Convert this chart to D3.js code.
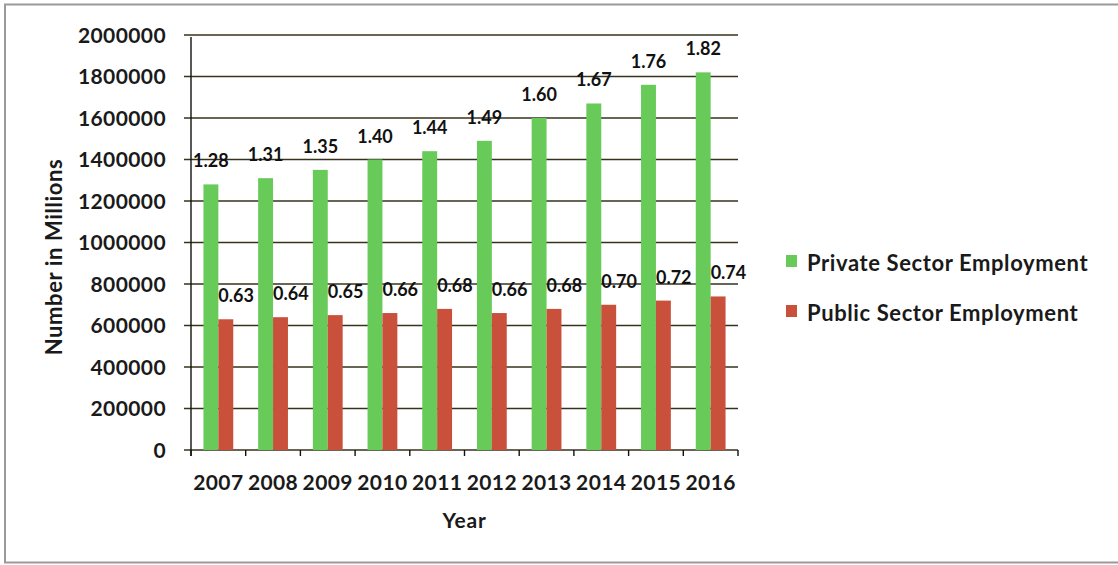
<!DOCTYPE html>
<html>
<head>
<meta charset="utf-8">
<script src="https://cdn.jsdelivr.net/npm/d3@7"></script>
<style>
  body { margin: 0; background: #fff; }
  svg { display: block; font-family: Lato, "Open Sans", sans-serif; font-weight: bold; }
</style>
</head>
<body>
<div id="chart"></div>
<script>
"use strict";

// values
const years = ["2007", "2008", "2009", "2010", "2011", "2012", "2013", "2014", "2015", "2016"];
const privateSector = [1280000, 1310000, 1350000, 1400000, 1440000, 1490000, 1600000, 1670000, 1760000, 1820000];
const publicSector = [630000, 640000, 650000, 660000, 680000, 660000, 680000, 700000, 720000, 740000];
const privateLabels = ["1.28", "1.31", "1.35", "1.40", "1.44", "1.49", "1.60", "1.67", "1.76", "1.82"];
const publicLabels = ["0.63", "0.64", "0.65", "0.66", "0.68", "0.66", "0.68", "0.70", "0.72", "0.74"];
const yTicks = [0, 200000, 400000, 600000, 800000, 1000000, 1200000, 1400000, 1600000, 1800000, 2000000];
const seriesNames = ["Private Sector Employment", "Public Sector Employment"];
const seriesColors = ["#68ca59", "#c9503b"];

const w = 1118, h = 565;
const plotLeft = 191, plotRight = 738, plotTop = 35, plotBottom = 450;

const svg = d3.select("#chart").append("svg").attr("width", w).attr("height", h);

// outer frame
svg.append("rect")
  .attr("x", 5).attr("y", 4.5).attr("width", 1130).attr("height", 558)
  .attr("fill", "none").attr("stroke", "#9a9a9a").attr("stroke-width", 2);

const x = d3.scaleBand().domain(years).range([plotLeft, plotRight])
  .paddingInner(0.455).paddingOuter(0.2275);
const y = d3.scaleLinear().domain([0, 2000000]).range([plotBottom, plotTop]);
const half = x.bandwidth() / 2;

// gridlines
svg.append("g").selectAll("line")
  .data(yTicks).enter().append("line")
  .attr("x1", plotLeft - 7).attr("x2", plotRight)
  .attr("y1", (d) => y(d)).attr("y2", (d) => y(d))
  .attr("stroke", "#37321c").attr("stroke-width", 1.4);

// y tick labels
svg.append("g").selectAll("text")
  .data(yTicks).enter().append("text")
  .attr("x", 166).attr("y", (d) => y(d) + 7.5)
  .attr("text-anchor", "end").attr("font-size", 21).attr("letter-spacing", 0.4)
  .attr("fill", "#1a1a1a")
  .text((d) => d);

// bars
const groups = svg.append("g").selectAll("g")
  .data(years).enter().append("g");

groups.append("rect")
  .attr("x", (d) => x(d))
  .attr("y", (d, i) => y(privateSector[i]))
  .attr("width", half)
  .attr("height", (d, i) => plotBottom - y(privateSector[i]))
  .attr("fill", seriesColors[0]);

groups.append("rect")
  .attr("x", (d) => x(d) + half)
  .attr("y", (d, i) => y(publicSector[i]))
  .attr("width", half)
  .attr("height", (d, i) => plotBottom - y(publicSector[i]))
  .attr("fill", seriesColors[1]);

// y axis line + x ticks
svg.append("line")
  .attr("x1", plotLeft).attr("x2", plotLeft).attr("y1", plotTop + 2).attr("y2", plotBottom + 6)
  .attr("stroke", "#111").attr("stroke-width", 1.4);
const boundaries = years.map((d, i) => plotLeft + i * x.step()).concat([plotRight]);
svg.append("g").selectAll("line")
  .data(boundaries).enter().append("line")
  .attr("x1", (d) => d).attr("x2", (d) => d)
  .attr("y1", plotBottom).attr("y2", plotBottom + 6)
  .attr("stroke", "#111").attr("stroke-width", 1.4);

// value labels
groups.append("text")
  .attr("x", (d) => x(d) + half / 2)
  .attr("y", (d, i) => y(privateSector[i]) - 17)
  .attr("text-anchor", "middle").attr("font-size", 18).attr("fill", "#111")
  .text((d, i) => privateLabels[i]);

groups.append("text")
  .attr("x", (d) => x(d) + half)
  .attr("y", (d, i) => y(publicSector[i]) - 17)
  .attr("text-anchor", "start").attr("font-size", 18).attr("fill", "#111")
  .text((d, i) => publicLabels[i]);

// x tick labels
svg.append("g").selectAll("text")
  .data(years).enter().append("text")
  .attr("x", (d) => x(d) + x.bandwidth() / 2)
  .attr("y", 490)
  .attr("text-anchor", "middle").attr("font-size", 21).attr("letter-spacing", 0.4)
  .attr("fill", "#1a1a1a")
  .text((d) => d);

// axis titles
svg.append("text")
  .attr("x", (plotLeft + plotRight) / 2).attr("y", 528)
  .attr("text-anchor", "middle").attr("font-size", 21).attr("letter-spacing", 0.8)
  .attr("fill", "#1a1a1a")
  .text("Year");

svg.append("text")
  .attr("transform", "translate(62,257) rotate(-90)")
  .attr("text-anchor", "middle").attr("font-size", 22).attr("letter-spacing", 0.6)
  .attr("fill", "#1a1a1a")
  .text("Number in Millions");

// legend
const legend = svg.append("g").selectAll("g")
  .data(seriesNames).enter().append("g")
  .attr("transform", (d, i) => "translate(786," + (255 + i * 50) + ")");
legend.append("rect")
  .attr("width", 11).attr("height", 12)
  .attr("fill", (d, i) => seriesColors[i]);
legend.append("text")
  .attr("x", 21).attr("y", 16)
  .attr("font-size", 22).attr("letter-spacing", 0.6)
  .attr("fill", "#1a1a1a")
  .text((d) => d);
</script>
</body>
</html>
